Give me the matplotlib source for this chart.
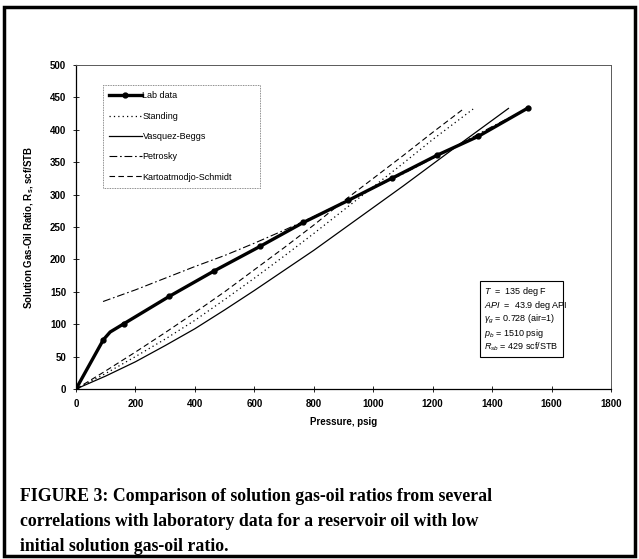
import matplotlib
matplotlib.use("Agg")
import matplotlib.pyplot as plt
from matplotlib.patches import Rectangle
from matplotlib.lines import Line2D

plt.rcParams['font.family'] = ['Liberation Sans', 'DejaVu Sans']
plt.rcParams['mathtext.fontset'] = 'custom'
plt.rcParams['mathtext.rm'] = 'Liberation Sans'
plt.rcParams['mathtext.it'] = 'Liberation Sans:italic'
plt.rcParams['mathtext.bf'] = 'Liberation Sans:bold'

# datos
lab_p = [0, 92, 115, 162, 314, 464, 619, 765, 916, 1062, 1216, 1354, 1522]
lab_r = [0, 76, 88, 101, 143, 182, 220, 257, 291, 325, 361, 390, 434]

stand_p = [0, 100, 200, 300, 400, 500, 600, 700, 800, 900, 1000, 1100, 1200, 1336]
stand_r = [0, 24, 50, 77, 106, 138, 171, 205, 240, 276, 312, 348, 385, 432]

vb_p = [0, 100, 200, 300, 400, 500, 600, 700, 800, 900, 1000, 1100, 1200, 1300, 1455]
vb_r = [0, 20, 42, 67, 93, 122, 152, 183, 214, 247, 280, 313, 347, 381, 433]

petro_p = [91, 200, 300, 400, 500, 600, 700, 800, 900, 1000, 1100, 1200, 1300, 1400, 1520]
petro_r = [135, 153, 171, 189, 206, 225, 245, 266, 288, 310, 332, 356, 380, 405, 433]

ks_p = [0, 100, 200, 300, 400, 500, 600, 700, 800, 900, 1000, 1100, 1200, 1303]
ks_r = [0, 28, 57, 87, 118, 150, 184, 218, 253, 290, 325, 360, 396, 432]

info_lines = [r"$\it{T}$  =  135 deg F",
              r"$\it{API}$  =  43.9 deg API",
              r"$\gamma_g$ = 0.728 (air=1)",
              r"$p_b$ = 1510 psig",
              r"$R_{sb}$ = 429 scf/STB"]

caption = ("FIGURE 3: Comparison of solution gas-oil ratios from several\n"
           "correlations with laboratory data for a reservoir oil with low\n"
           "initial solution gas-oil ratio.")

fig = plt.figure(figsize=(6.39, 5.59), dpi=100)
ax = fig.add_axes([76/639, 1 - 389/559, 535/639, 324/559])

h_petro, = ax.plot(petro_p, petro_r, color='black', lw=0.8, ls=(0, (7, 2.5, 1.5, 2.5)))
h_ks, = ax.plot(ks_p, ks_r, color='black', lw=0.8, ls=(0, (5, 3)))
h_stand, = ax.plot(stand_p, stand_r, color='black', lw=0.9, ls=(0, (1, 2.5)))
h_vb, = ax.plot(vb_p, vb_r, color='black', lw=0.9)
ax.plot(lab_p, lab_r, color='black', lw=2.4, zorder=5)
# el punto del quiebre (115) no lleva marcador
mp = [p for i, p in enumerate(lab_p) if i != 2]
mr = [r for i, r in enumerate(lab_r) if i != 2]
ax.plot(mp, mr, ls='none', color='black', marker='o', ms=3.5, zorder=6)
h_lab = Line2D([], [], color='black', lw=2.4, marker='o', ms=3.5)

ax.set_xlim(0, 1800)
ax.set_ylim(0, 500)
ax.set_xticks(range(0, 1801, 200))
ax.set_yticks(range(0, 501, 50))
ax.tick_params(direction='inout', length=4, width=0.6, labelsize=7, pad=5)
for lbl in ax.get_xticklabels() + ax.get_yticklabels():
    lbl.set_fontweight('bold')

for side in ['left', 'bottom']:
    ax.spines[side].set_linewidth(0.9)
for side in ['top', 'right']:
    ax.spines[side].set_linewidth(0.7)
    ax.spines[side].set_color('0.35')

ax.set_xlabel('Pressure, psig', fontsize=7, fontweight='bold', labelpad=6)
ax.set_ylabel(r'Solution Gas-Oil Ratio, R$_\mathbf{s}$, scf/STB', fontsize=7,
              fontweight='bold', labelpad=10)

leg = ax.legend([h_lab, h_stand, h_vb, h_petro, h_ks],
                ['Lab data', 'Standing', 'Vasquez-Beggs', 'Petrosky', 'Kartoatmodjo-Schmidt'],
                loc='upper left', bbox_to_anchor=(0.05, 0.624, 0.294, 0.314), mode='expand',
                fontsize=6.5, handlelength=3.6, handletextpad=0.1,
                labelspacing=1.25, borderaxespad=0, borderpad=0.7,
                fancybox=False, framealpha=1)
leg.get_frame().set_edgecolor('0.4')
leg.get_frame().set_linewidth(0.6)
leg.get_frame().set_linestyle((0, (1, 1)))

# caja de datos
ax.add_patch(Rectangle((0.755, 0.10), 0.155, 0.233, transform=ax.transAxes,
                       fill=True, facecolor='white', edgecolor='black', lw=0.8, zorder=6))
for i, line in enumerate(info_lines):
    ax.text(0.762, 0.300 - i * 0.0425, line, transform=ax.transAxes, fontsize=6.5,
            va='center', ha='left', zorder=7)

fig.text(20/639, 1 - 488/559, caption, family='Liberation Serif', fontweight='bold',
         fontsize=12.8, va='top', ha='left', linespacing=1.62)

fig.patches.append(Rectangle((0.006, 0.006), 0.988, 0.982, transform=fig.transFigure,
                             fill=False, edgecolor='black', lw=2.5))

plt.savefig('out.png', dpi=100)
